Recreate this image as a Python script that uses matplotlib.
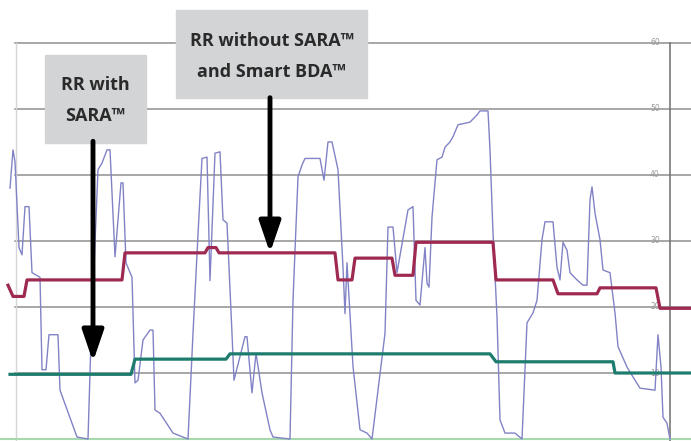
import matplotlib.pyplot as plt
from matplotlib.patches import Rectangle

# czas (próbki) i wartości RR
rr_czas = [10, 13, 15, 19, 22, 25, 29, 32, 40, 42, 46, 49, 58, 60, 77, 88, 91, 98, 102, 107,
           110, 115, 121, 123, 126, 132, 135, 138, 143, 150, 153, 155, 160, 173, 188, 193, 198,
           202, 207, 210, 215, 220, 223, 227, 232, 234, 245, 247, 252, 256, 262, 270, 273, 290,
           293, 298, 302, 305, 320, 324, 328, 332, 338, 343, 345, 347, 353, 360, 367, 372, 385,
           388, 393, 397, 408, 413, 416, 420, 425, 427, 429, 432, 437, 442, 445, 450, 453, 458,
           470, 477, 480, 488, 490, 493, 497, 500, 505, 515, 522, 527, 533, 537, 542, 545, 553,
           557, 560, 563, 567, 570, 577, 583, 587, 590, 592, 595, 600, 603, 610, 615, 618, 627,
           633, 640, 655, 658, 661, 663, 667, 670]
rr_wartosci = [38.0, 43.8, 42.0, 29.0, 27.9, 35.2, 35.2, 25.2, 24.5, 10.5, 10.5, 15.8, 15.8, 7.4,
               0.3, 0.0, 15.0, 40.8, 41.8, 43.8, 43.8, 27.6, 38.8, 38.8, 26.7, 24.5, 8.5, 8.9,
               15.0, 16.5, 16.5, 4.4, 3.9, 0.9, 0.0, 16.0, 31.0, 42.5, 42.7, 24.0, 43.3, 43.5,
               33.2, 32.7, 16.0, 8.9, 15.5, 15.5, 7.0, 13.0, 7.0, 1.4, 0.3, 0.0, 21.0, 39.7, 41.5,
               42.5, 42.5, 39.2, 45.0, 45.0, 40.8, 26.0, 19.0, 26.7, 11.0, 1.4, 0.9, 0.0, 16.0,
               32.1, 32.1, 25.2, 34.7, 35.2, 21.0, 20.3, 29.0, 23.6, 23.0, 33.6, 42.3, 42.7, 44.2,
               45.0, 45.8, 47.6, 48.0, 49.1, 49.7, 49.7, 43.8, 31.2, 18.5, 2.9, 0.9, 0.9, 0.0,
               17.6, 19.1, 21.0, 30.2, 32.9, 32.9, 26.0, 24.1, 29.8, 28.6, 25.2, 24.1, 23.3, 23.3,
               36.2, 38.2, 34.2, 30.2, 25.6, 25.2, 19.1, 14.0, 10.9, 9.4, 7.7, 7.4, 15.8, 10.9,
               3.3, 2.4, 0.0]

# RR bez SARA i Smart BDA (czerwona)
bez_czas = [8, 13, 24, 27, 122, 125, 205, 208, 216, 219, 335, 338, 352, 355, 392, 395, 413,
            416, 493, 496, 553, 558, 597, 600, 656, 660, 691]
bez_wartosci = [23.3, 21.6, 21.6, 24.1, 24.1, 28.2, 28.2, 29.0, 29.0, 28.2, 28.2, 24.1, 24.1,
                27.4, 27.4, 24.8, 24.8, 29.8, 29.8, 24.1, 24.1, 22.0, 22.0, 22.9, 22.9, 19.8, 19.8]

# RR z SARA (zielona)
z_czas = [10, 131, 135, 226, 230, 490, 496, 613, 615, 691]
z_wartosci = [9.8, 9.8, 12.1, 12.1, 12.9, 12.9, 11.7, 11.7, 10.0, 10.0]

poziomy = [10, 20, 30, 40, 50, 60]

fig = plt.figure(figsize=(6.91, 4.41), dpi=100)
ax = fig.add_axes([0, 0, 1, 1])
ax.set_xlim(0, 691)
ax.set_ylim(-0.3, 66.5)
ax.axis('off')

# siatka i osie
for p in poziomy:
    ax.axhline(p, xmin=15 / 691, color='#8f8f8f', lw=1.1, zorder=1)
    ax.text(655, p, str(p), color='#9a9a9a', fontsize=5.5, ha='center', va='center', zorder=2)
ax.plot([670, 670], [-0.3, 60], color='#6e6e6e', lw=1.1, zorder=1)
ax.plot([16, 16], [-0.3, 60], color='#d6d6d6', lw=1, zorder=1)
ax.axhline(0, color='#a8d8b0', lw=1.5, zorder=1)

# serie
ax.plot(rr_czas, rr_wartosci, color='#8183c6', lw=1.0, zorder=3)
ax.plot(bez_czas, bez_wartosci, color='#9e2a52', lw=2.3, zorder=4)
ax.plot(z_czas, z_wartosci, color='#1d7c6e', lw=2.3, zorder=4)

# opisy w szarych ramkach
ax.add_patch(Rectangle((0.065, 0.676), 0.146, 0.2, transform=ax.transAxes,
                       color='#d3d4d6', zorder=5))
ax.add_patch(Rectangle((0.255, 0.778), 0.276, 0.2, transform=ax.transAxes,
                       color='#d3d4d6', zorder=5))
ax.text(0.138, 0.772, 'RR with\nSARA™', transform=ax.transAxes, ha='center', va='center',
        fontsize=13, fontweight='bold', family='Open Sans', color='#2a2a2a',
        linespacing=1.9, zorder=6)
ax.text(0.393, 0.872, 'RR without SARA™\nand Smart BDA™', transform=ax.transAxes,
        ha='center', va='center', fontsize=13, fontweight='bold', family='Open Sans',
        color='#2a2a2a', linespacing=1.9, zorder=6)

# strzałki
strzalka = dict(arrowstyle='-|>,head_length=1.9,head_width=0.65', lw=3.5, color='black',
                shrinkA=0, shrinkB=0)
ax.annotate('', xy=(93, 11.7), xytext=(93, 45.1), arrowprops=strzalka, zorder=6)
ax.annotate('', xy=(270, 28.2), xytext=(270, 51.7), arrowprops=strzalka, zorder=6)

fig.savefig('out.png', dpi=100)
